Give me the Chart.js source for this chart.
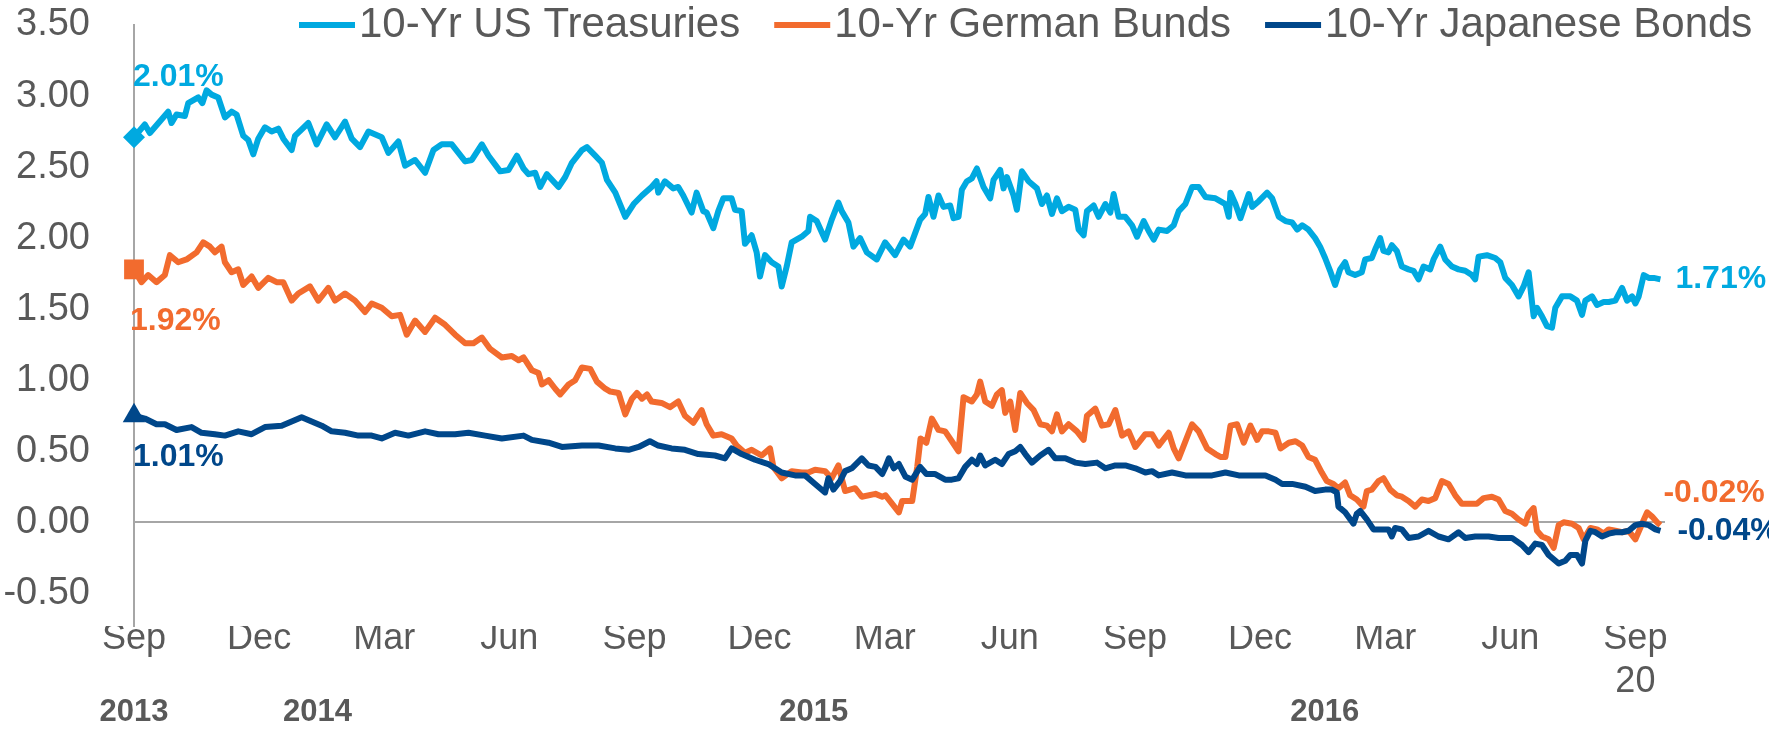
<!DOCTYPE html>
<html>
<head>
<meta charset="utf-8">
<title>10-Yr government bond yields</title>
<script src="https://cdn.jsdelivr.net/npm/chart.js@4.4.1/dist/chart.umd.min.js"></script>
<style>
  html, body { margin: 0; padding: 0; background: #ffffff; }
  canvas { display: block; }
</style>
</head>
<body>
<canvas id="yields" width="1769" height="730"></canvas>
<script>

// ---- data (x = months since Sep 2013, y = yield in %) ----
var seriesNames = ['10-Yr US Treasuries', '10-Yr German Bunds', '10-Yr Japanese Bonds'];

var usMonths = [0.00,0.26,0.38,0.82,0.90,1.02,1.22,1.30,1.54,1.64,1.74,1.86,2.02,2.18,2.34,2.46,2.62,2.74,2.86,2.98,3.14,3.30,3.46,3.58,3.78,3.86,4.18,4.38,4.62,4.82,5.06,5.22,5.42,5.62,5.94,6.10,6.34,6.50,6.74,6.98,7.18,7.38,7.62,7.78,7.94,8.10,8.34,8.50,8.78,8.98,9.18,9.34,
  9.46,9.62,9.74,9.90,10.18,10.34,10.50,10.74,10.86,11.06,11.22,11.34,11.54,11.78,11.98,12.18,12.41,12.53,12.57,12.73,12.93,13.05,13.17,13.37,13.49,13.65,13.73,13.89,14.01,14.13,14.33,14.41,14.57,14.65,14.81,14.93,15.01,15.13,15.29,15.45,15.53,15.65,15.77,16.01,16.17,16.21,16.37,16.57,16.73,16.89,16.97,17.13,17.25,17.41,17.57,17.81,18.01,18.25,18.45,18.61,
  18.85,18.97,19.05,19.17,19.29,19.41,19.57,19.65,19.77,19.85,19.97,20.09,20.21,20.37,20.53,20.61,20.77,20.85,20.93,21.09,21.17,21.29,21.45,21.65,21.77,21.89,22.01,22.13,22.25,22.41,22.57,22.65,22.77,22.85,23.01,23.13,23.29,23.41,23.49,23.61,23.77,23.93,24.05,24.21,24.33,24.45,24.57,24.77,24.93,25.05,25.21,25.37,25.53,25.69,25.93,26.17,26.25,26.29,26.41,26.53,26.73,26.81,26.97,27.17,27.29,27.45,27.61,27.77,27.89,28.01,
  28.16,28.32,28.44,28.56,28.68,28.80,28.92,29.04,29.12,29.28,29.44,29.52,29.68,29.76,29.88,29.96,30.08,30.16,30.28,30.40,30.56,30.68,30.80,30.92,31.08,31.16,31.32,31.44,31.60,31.76,31.92,32.08,32.16,32.24,32.44,32.64,32.76,32.88,33.04,33.20,33.32,33.44,33.56,33.64,33.76,33.88,34.00,34.08,34.24,34.44,34.60,34.72,34.80,34.96,35.08,35.24,35.36,35.52,35.68,35.80,35.92,36.00,36.08,36.20,36.32,36.44,36.60];
var usYields = [2.71,2.80,2.74,2.89,2.81,2.87,2.86,2.95,2.99,2.95,3.04,3.01,2.99,2.85,2.89,2.87,2.72,2.69,2.59,2.70,2.78,2.75,2.77,2.70,2.62,2.72,2.81,2.66,2.80,2.71,2.82,2.70,2.64,2.75,2.71,2.60,2.68,2.51,2.55,2.46,2.62,2.66,2.66,2.60,2.54,2.55,2.66,2.58,2.47,2.48,2.58,2.49,
  2.45,2.46,2.36,2.45,2.36,2.43,2.53,2.62,2.64,2.58,2.53,2.41,2.32,2.15,2.24,2.30,2.36,2.40,2.32,2.40,2.35,2.36,2.30,2.18,2.32,2.19,2.18,2.07,2.19,2.28,2.28,2.20,2.19,1.96,2.02,1.90,1.73,1.88,1.83,1.80,1.66,1.80,1.97,2.01,2.05,2.15,2.12,1.99,2.13,2.25,2.19,2.11,1.94,2.00,1.90,1.85,1.97,1.88,1.99,1.94,
  2.13,2.17,2.29,2.15,2.30,2.22,2.23,2.14,2.15,2.34,2.40,2.42,2.49,2.36,2.28,2.41,2.48,2.35,2.43,2.30,2.20,2.47,2.40,2.35,2.24,2.30,2.17,2.28,2.19,2.22,2.20,2.06,2.02,2.19,2.23,2.15,2.24,2.18,2.31,2.15,2.15,2.09,2.01,2.12,2.05,1.99,2.06,2.05,2.09,2.19,2.24,2.36,2.36,2.29,2.28,2.24,2.15,2.32,2.24,2.14,2.31,2.22,2.26,2.32,2.28,2.15,2.12,2.11,2.06,2.09,
  2.06,2.00,1.94,1.86,1.77,1.67,1.78,1.83,1.76,1.74,1.76,1.85,1.86,1.92,2.00,1.91,1.90,1.95,1.91,1.80,1.78,1.77,1.71,1.80,1.78,1.85,1.94,1.85,1.80,1.78,1.77,1.74,1.71,1.87,1.88,1.86,1.83,1.72,1.67,1.59,1.66,1.76,1.45,1.51,1.45,1.38,1.37,1.51,1.59,1.59,1.56,1.46,1.56,1.59,1.53,1.55,1.55,1.56,1.65,1.56,1.59,1.54,1.59,1.74,1.72,1.72,1.71];

var deMonths = [0.00,0.18,0.34,0.54,0.74,0.86,1.06,1.26,1.50,1.66,1.82,1.94,2.10,2.18,2.34,2.50,2.62,2.82,2.98,3.22,3.42,3.58,3.78,3.94,4.22,4.42,4.66,4.82,5.06,5.30,5.54,5.70,5.94,6.18,6.38,6.54,6.74,6.98,7.22,7.46,7.70,7.94,8.14,8.34,8.54,8.82,9.06,9.22,9.34,
  9.54,9.70,9.78,9.94,10.10,10.22,10.42,10.58,10.74,10.94,11.10,11.30,11.42,11.62,11.78,11.94,12.06,12.18,12.30,12.41,12.65,12.85,13.05,13.21,13.41,13.61,13.73,13.89,14.09,14.33,14.45,14.65,14.81,15.05,15.25,15.33,15.53,15.77,16.01,16.17,16.33,16.57,16.73,16.89,17.05,17.29,17.45,17.78,17.94,18.02,18.18,18.34,18.42,18.66,18.78,18.86,19.00,19.13,
  19.29,19.45,19.61,19.77,19.89,20.09,20.21,20.29,20.41,20.57,20.69,20.81,20.89,21.01,21.13,21.25,21.41,21.57,21.73,21.89,22.01,22.13,22.25,22.41,22.61,22.77,22.85,23.05,23.21,23.37,23.53,23.69,23.85,24.01,24.25,24.41,24.57,24.81,24.93,25.05,25.21,25.37,25.53,25.73,25.93,26.05,26.17,26.29,26.45,26.61,26.77,26.93,27.05,27.21,27.37,27.49,27.69,27.85,28.01,
  28.16,28.32,28.48,28.60,28.76,28.88,29.04,29.16,29.32,29.48,29.56,29.68,29.84,29.96,30.12,30.28,30.40,30.56,30.72,30.88,31.04,31.20,31.28,31.36,31.52,31.68,31.84,32.00,32.20,32.36,32.56,32.72,32.88,33.04,33.20,33.36,33.44,33.56,33.64,33.76,33.92,34.04,34.16,34.28,34.48,34.64,34.76,34.92,35.08,35.24,35.36,35.52,35.68,35.84,36.00,36.16,36.28,36.40,36.52,36.60];
var deYields = [1.78,1.69,1.74,1.69,1.74,1.88,1.83,1.85,1.90,1.97,1.94,1.90,1.94,1.83,1.76,1.78,1.67,1.73,1.65,1.72,1.69,1.69,1.56,1.61,1.66,1.56,1.65,1.56,1.61,1.56,1.48,1.54,1.51,1.45,1.46,1.32,1.42,1.34,1.44,1.39,1.32,1.26,1.26,1.30,1.22,1.16,1.17,1.14,1.16,
  1.07,1.05,0.97,1.00,0.94,0.90,0.97,1.00,1.09,1.08,0.99,0.94,0.92,0.91,0.76,0.87,0.91,0.87,0.90,0.85,0.84,0.81,0.85,0.75,0.70,0.79,0.69,0.61,0.62,0.59,0.54,0.49,0.51,0.47,0.52,0.39,0.31,0.36,0.35,0.35,0.37,0.36,0.31,0.40,0.22,0.24,0.18,0.20,0.18,0.19,0.13,0.07,0.15,0.15,0.39,0.59,0.56,0.73,
  0.65,0.64,0.57,0.50,0.88,0.85,0.90,0.99,0.85,0.82,0.90,0.93,0.77,0.85,0.65,0.91,0.84,0.79,0.69,0.68,0.64,0.76,0.64,0.69,0.64,0.58,0.75,0.80,0.68,0.69,0.79,0.61,0.64,0.53,0.62,0.62,0.54,0.63,0.52,0.45,0.57,0.69,0.64,0.52,0.48,0.46,0.46,0.68,0.69,0.56,0.68,0.58,0.64,0.64,0.63,0.52,0.56,0.57,0.54,
  0.46,0.44,0.35,0.29,0.27,0.24,0.28,0.19,0.16,0.11,0.22,0.23,0.29,0.31,0.23,0.19,0.18,0.15,0.11,0.16,0.15,0.17,0.23,0.29,0.27,0.19,0.13,0.13,0.13,0.17,0.18,0.16,0.08,0.06,0.02,-0.01,0.06,0.10,-0.06,-0.10,-0.12,-0.18,-0.02,0.00,-0.01,-0.04,-0.12,-0.04,-0.05,-0.08,-0.05,-0.06,-0.07,-0.06,-0.12,-0.01,0.07,0.04,0.00,-0.02];

var jpMonths = [0.00,0.26,0.54,0.74,1.02,1.38,1.62,1.94,2.18,2.50,2.82,3.14,3.54,3.78,4.02,4.26,4.50,4.74,5.06,5.38,5.70,5.94,6.26,6.58,6.98,7.30,7.70,8.02,8.42,8.82,9.34,
  9.54,9.94,10.26,10.74,11.14,11.54,11.86,12.10,12.37,12.57,12.89,13.21,13.53,13.93,14.17,14.33,14.57,14.89,15.21,15.53,15.85,16.09,16.33,16.57,16.65,16.77,16.93,17.05,17.21,17.45,17.61,17.78,17.94,18.02,18.10,18.22,18.34,18.50,18.66,18.85,19.00,19.20,19.45,
  19.61,19.77,19.93,20.09,20.21,20.29,20.41,20.65,20.81,20.97,21.13,21.25,21.37,21.53,21.73,21.93,22.09,22.33,22.57,22.81,23.09,23.29,23.53,23.77,24.01,24.25,24.41,24.57,24.89,25.21,25.53,25.85,26.17,26.49,26.81,27.13,27.37,27.53,27.77,28.09,
  28.32,28.56,28.72,28.84,28.88,29.04,29.24,29.32,29.40,29.56,29.72,29.92,30.08,30.16,30.24,30.40,30.56,30.80,31.04,31.28,31.52,31.76,31.92,32.16,32.48,32.72,33.04,33.28,33.44,33.60,33.76,33.92,34.16,34.32,34.44,34.60,34.72,34.80,34.92,35.04,35.20,35.36,35.52,35.68,35.84,36.00,36.16,36.32,36.48,36.60];
var jpYields = [0.75,0.73,0.69,0.69,0.65,0.67,0.63,0.62,0.61,0.64,0.62,0.67,0.68,0.71,0.74,0.71,0.68,0.64,0.63,0.61,0.61,0.59,0.63,0.61,0.64,0.62,0.62,0.63,0.61,0.59,0.61,
  0.58,0.56,0.53,0.54,0.54,0.52,0.51,0.53,0.57,0.54,0.52,0.51,0.48,0.47,0.45,0.52,0.48,0.44,0.41,0.35,0.33,0.33,0.27,0.21,0.31,0.23,0.29,0.36,0.38,0.45,0.40,0.39,0.34,0.39,0.45,0.38,0.41,0.32,0.30,0.39,0.34,0.34,0.30,
  0.30,0.31,0.39,0.44,0.41,0.47,0.40,0.44,0.41,0.48,0.50,0.53,0.48,0.42,0.47,0.51,0.45,0.45,0.42,0.41,0.42,0.38,0.40,0.40,0.38,0.35,0.36,0.33,0.35,0.33,0.33,0.33,0.35,0.33,0.33,0.33,0.30,0.27,0.27,0.25,
  0.22,0.23,0.23,0.21,0.11,0.07,-0.01,0.06,0.08,0.02,-0.05,-0.05,-0.05,-0.10,-0.04,-0.05,-0.11,-0.10,-0.06,-0.10,-0.12,-0.07,-0.11,-0.10,-0.10,-0.11,-0.11,-0.16,-0.21,-0.15,-0.16,-0.23,-0.29,-0.27,-0.23,-0.23,-0.29,-0.13,-0.06,-0.07,-0.10,-0.08,-0.07,-0.07,-0.06,-0.02,-0.01,-0.02,-0.05,-0.06];

// labels written at the start and at the end of each line
var startLabels = ['2.01%', '1.92%', '1.01%'];
var endLabels = ['1.71%', '-0.02%', '-0.04%'];

// axis ticks
var yTicks = [-0.5, 0, 0.5, 1, 1.5, 2, 2.5, 3, 3.5];
var monthTicks = [0, 3, 6, 9, 12, 15, 18, 21, 24, 27, 30, 33, 36];
var monthLabels = ['Sep', 'Dec', 'Mar', 'Jun', 'Sep', 'Dec', 'Mar', 'Jun', 'Sep', 'Dec', 'Mar', 'Jun', 'Sep\n20'];
var yearTicks = [0, 4.4, 16.3, 28.55];
var yearLabels = ['2013', '2014', '2015', '2016'];


var FONT = '"Liberation Sans", Arial, sans-serif';
var GREY = '#595959';

function pairs(xs, ys) {
  return xs.map(function(m, i) { return { x: m, y: ys[i] }; });
}

// keep the axes from pushing the plot area around
function noScalePadding(scale) {
  scale.paddingTop = 0;
  scale.paddingBottom = 0;
  scale.paddingLeft = 0;
  scale.paddingRight = 0;
}

// legend drawn as short thick lines right against the text
var lineLegend = {
  id: 'lineLegend',
  afterDraw: function(chart) {
    var ctx = chart.ctx;
    var x = 299, y = 25;
    ctx.save();
    ctx.font = '42px ' + FONT;
    ctx.textBaseline = 'middle';
    ctx.textAlign = 'left';
    chart.data.datasets.forEach(function(ds) {
      ctx.fillStyle = ds.borderColor;
      ctx.fillRect(x, y - 3, 56, 6);
      x += 60;
      ctx.fillStyle = GREY;
      ctx.fillText(ds.label, x, y);
      x += ctx.measureText(ds.label).width + 34;
    });
    ctx.restore();
  }
};

// value labels at both ends of the lines
var endText = {
  id: 'endText',
  afterDatasetsDraw: function(chart) {
    var ctx = chart.ctx;
    var startOff = [[-1, -60], [-4, 52], [-1, 41]];
    var endOff = [[15, 0], [3, -32], [17, 0]];
    ctx.save();
    ctx.font = 'bold 32px ' + FONT;
    ctx.textBaseline = 'middle';
    ctx.textAlign = 'left';
    chart.data.datasets.forEach(function(ds, i) {
      var pts = chart.getDatasetMeta(i).data;
      var first = pts[0], last = pts[pts.length - 1];
      ctx.fillStyle = ds.borderColor;
      ctx.fillText(startLabels[i], first.x + startOff[i][0], first.y + startOff[i][1]);
      ctx.fillText(endLabels[i], last.x + endOff[i][0], last.y + endOff[i][1]);
    });
    ctx.restore();
  }
};

function firstPointOnly(r) {
  return function(c) { return c.dataIndex === 0 ? r : 0; };
}

var ctx = document.getElementById('yields').getContext('2d');
var yieldChart = new Chart(ctx, {
  type: 'line',
  data: {
    datasets: [{
      label: seriesNames[0],
      data: pairs(usMonths, usYields),
      borderColor: '#00a9e0',
      backgroundColor: '#00a9e0',
      pointStyle: 'rectRot',
      pointRadius: firstPointOnly(11),
      order: 3
    }, {
      label: seriesNames[1],
      data: pairs(deMonths, deYields),
      borderColor: '#f26b2e',
      backgroundColor: '#f26b2e',
      pointStyle: 'rect',
      pointRadius: firstPointOnly(14),
      order: 2
    }, {
      label: seriesNames[2],
      data: pairs(jpMonths, jpYields),
      borderColor: '#00478a',
      backgroundColor: '#00478a',
      pointStyle: 'triangle',
      pointRadius: firstPointOnly(13),
      order: 1
    }]
  },
  options: {
    responsive: false,
    animation: false,
    events: [],
    datasets: {
      line: {
        borderWidth: 6,
        tension: 0,
        borderJoinStyle: 'round',
        pointBorderWidth: 0,
        pointHoverRadius: 0,
        clip: false
      }
    },
    layout: {
      padding: { top: 25, right: 104, bottom: 0, left: 0 }
    },
    scales: {
      y: {
        type: 'linear',
        position: 'left',
        min: -0.73,
        max: 3.5,
        afterBuildTicks: function(scale) {
          scale.ticks = yTicks.map(function(v) { return { value: v }; });
        },
        afterFit: function(scale) {
          scale.width = 134;
          noScalePadding(scale);
        },
        grid: {
          drawTicks: false,
          lineWidth: 2,
          color: function(c) {
            return c.tick && c.tick.value === 0 ? '#a6a6a6' : 'rgba(0,0,0,0)';
          }
        },
        border: { display: true, color: '#a6a6a6', width: 2 },
        ticks: {
          padding: 44,
          color: GREY,
          font: { family: FONT, size: 38 },
          callback: function(v) { return v.toFixed(2); }
        }
      },
      x: {
        type: 'linear',
        position: 'bottom',
        weight: 0,
        min: 0,
        max: 36.71,
        afterBuildTicks: function(scale) {
          scale.ticks = monthTicks.map(function(v) { return { value: v }; });
        },
        afterFit: function(scale) {
          scale.height = 72;
          noScalePadding(scale);
        },
        grid: { display: false, drawTicks: false },
        border: { display: false },
        ticks: {
          padding: -9,
          autoSkip: false,
          maxRotation: 0,
          color: GREY,
          font: { family: FONT, size: 36 },
          callback: function(v, i) { return monthLabels[i].split('\n'); }
        }
      },
      xYear: {
        type: 'linear',
        position: 'bottom',
        weight: 1,
        min: 0,
        max: 36.71,
        afterBuildTicks: function(scale) {
          scale.ticks = yearTicks.map(function(v) { return { value: v }; });
        },
        afterFit: function(scale) {
          scale.height = 32;
          noScalePadding(scale);
        },
        grid: { display: false, drawTicks: false },
        border: { display: false },
        ticks: {
          padding: -4,
          autoSkip: false,
          maxRotation: 0,
          color: GREY,
          font: { family: FONT, size: 31, weight: 'bold' },
          callback: function(v, i) { return yearLabels[i]; }
        }
      }
    },
    plugins: {
      legend: { display: false },
      tooltip: { enabled: false }
    }
  },
  plugins: [lineLegend, endText]
});

</script>
</body>
</html>
